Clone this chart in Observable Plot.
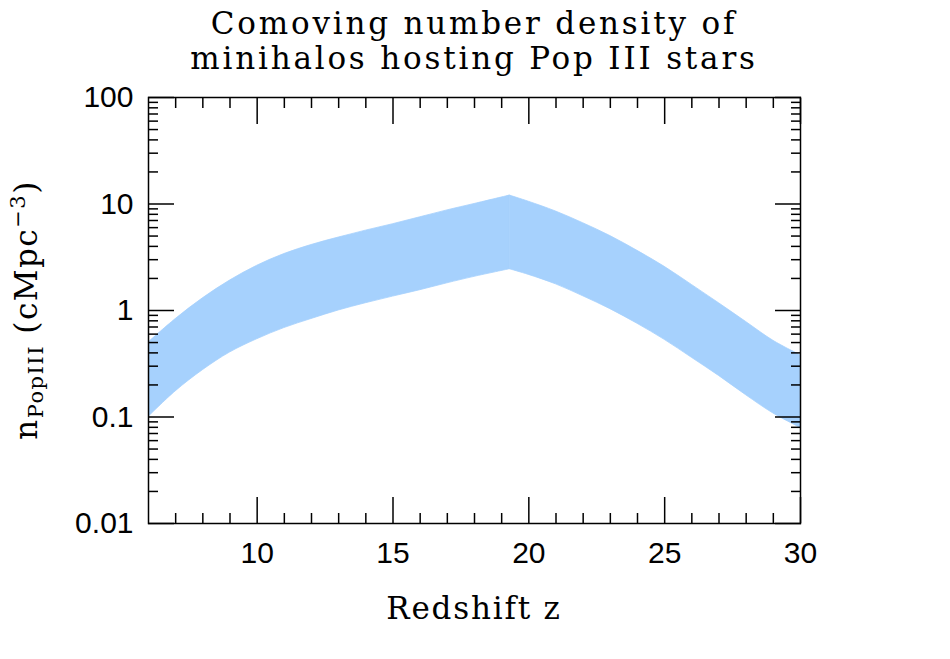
<!DOCTYPE html>
<html>
<head>
<meta charset="utf-8">
<script src="https://cdn.jsdelivr.net/npm/d3@7"></script>
<script src="https://cdn.jsdelivr.net/npm/@observablehq/plot@0.6"></script>
<style>
  html, body { margin: 0; padding: 0; background: #fff; }
  svg { display: block; }
</style>
</head>
<body>
<div id="chart"></div>
<script>
// Band of comoving number density (cMpc^-3) vs redshift: rising branch up to the peak at z ≈ 19.3
const zRise      = [6, 7, 8, 9, 10, 11, 12, 13, 14, 15, 16, 17, 18, 19.3];
const nLowRise   = [0.10, 0.174, 0.275, 0.403, 0.537, 0.684, 0.832, 1.00, 1.17, 1.35, 1.55, 1.80, 2.07, 2.44];
const nHighRise  = [0.50, 0.83, 1.30, 1.91, 2.63, 3.39, 4.12, 4.84, 5.62, 6.46, 7.50, 8.71, 10.0, 12.0];

// Falling branch from the peak out to z = 30
const zFall      = [19.3, 20, 21, 22, 23, 24, 25, 26, 27, 28, 29, 30];
const nLowFall   = [2.44, 2.16, 1.76, 1.36, 1.03, 0.75, 0.53, 0.36, 0.243, 0.160, 0.108, 0.079];
const nHighFall  = [12.0, 10.5, 8.5, 6.6, 5.0, 3.63, 2.57, 1.74, 1.17, 0.78, 0.52, 0.38];

// Axis ticks and labels
const xMajorTicks = [10, 15, 20, 25, 30];
const xMinorTicks = [7, 8, 9, 11, 12, 13, 14, 16, 17, 18, 19, 21, 22, 23, 24, 26, 27, 28, 29];
const yMajorTicks = [0.01, 0.1, 1, 10, 100];
const yTickLabels = ["0.01", "0.1", "1", "10", "100"];
const yMinorTicks = [
  0.02, 0.03, 0.04, 0.05, 0.06, 0.07, 0.08, 0.09,
  0.2, 0.3, 0.4, 0.5, 0.6, 0.7, 0.8, 0.9,
  2, 3, 4, 5, 6, 7, 8, 9,
  20, 30, 40, 50, 60, 70, 80, 90
];

const titleLines = ["Comoving number density of", "minihalos hosting Pop III stars"];
const xLabel = "Redshift z";

const bandFill = "#a6d1fd";
const serif = "'DejaVu Serif', serif";

const rows = [
  ...zRise.map((z, i) => ({z, lo: nLowRise[i], hi: nHighRise[i], seg: "rise"})),
  ...zFall.map((z, i) => ({z, lo: nLowFall[i], hi: nHighFall[i], seg: "fall"}))
];

// Inward ticks on all four sides: long for decades / multiples of 5, short otherwise
const tickStyle = {stroke: "#000", strokeWidth: 1.5, fill: "none", label: null};
const tickMarks = [
  ...["bottom", "top"].flatMap(anchor => [
    Plot.axisX(xMajorTicks, {anchor, tickSize: -26, ...tickStyle}),
    Plot.axisX(xMinorTicks, {anchor, tickSize: -10, ...tickStyle})
  ]),
  ...["left", "right"].flatMap(anchor => [
    Plot.axisY(yMajorTicks, {anchor, tickSize: -26, ...tickStyle}),
    Plot.axisY(yMinorTicks, {anchor, tickSize: -10, ...tickStyle})
  ])
];

const chart = Plot.plot({
  width: 950,
  height: 659,
  marginLeft: 148,
  marginRight: 150,
  marginTop: 97,
  marginBottom: 136,
  style: {
    fontFamily: "'Liberation Sans', Arial, sans-serif",
    fontSize: "30px",
    color: "#000",
    background: "#fff"
  },
  x: {type: "linear", domain: [6, 30]},
  y: {type: "log", domain: [0.01, 100]},
  marks: [
    Plot.areaY(rows, {
      x: "z", y1: "lo", y2: "hi", z: "seg",
      fill: bandFill, stroke: bandFill, strokeWidth: 0.8,
      curve: "catmull-rom", clip: true
    }),
    Plot.frame({stroke: "#000", strokeWidth: 1.5}),
    ...tickMarks,
    Plot.axisX(xMajorTicks, {anchor: "bottom", tickSize: 0, tickPadding: 18, label: null}),
    Plot.axisY(yMajorTicks, {
      anchor: "left", tickSize: 0, tickPadding: 15, label: null,
      tickFormat: d => yTickLabels[yMajorTicks.indexOf(d)]
    })
  ]
});

document.getElementById("chart").appendChild(chart);

// Title, x label and y label (with sub/superscripts) in serif type
const svg = d3.select(chart);
const [x0, x1] = chart.scale("x").range;
const cx = (x0 + x1) / 2;

svg.append("g")
  .attr("font-family", serif)
  .attr("font-size", 31)
  .attr("letter-spacing", 2.8)
  .attr("text-anchor", "middle")
  .attr("fill", "#000")
  .selectAll("text")
  .data(titleLines)
  .join("text")
  .attr("x", cx)
  .attr("y", (d, i) => 34 + i * 35)
  .text(d => d);

svg.append("text")
  .attr("font-family", serif)
  .attr("font-size", 31)
  .attr("letter-spacing", 1.8)
  .attr("text-anchor", "middle")
  .attr("x", cx)
  .attr("y", 619)
  .text(xLabel);

const yl = svg.append("text")
  .attr("font-family", serif)
  .attr("font-size", 31)
  .attr("letter-spacing", 1.5)
  .attr("text-anchor", "middle")
  .attr("transform", "translate(37,310) rotate(-90)");
yl.append("tspan").text("n");
yl.append("tspan").attr("font-size", 21).attr("dy", 6).text("PopIII");
yl.append("tspan").attr("dy", -6).text(" (cMpc");
yl.append("tspan").attr("font-size", 21).attr("dy", -12).text("\u22123");
yl.append("tspan").attr("dy", 12).text(")");
</script>
</body>
</html>
